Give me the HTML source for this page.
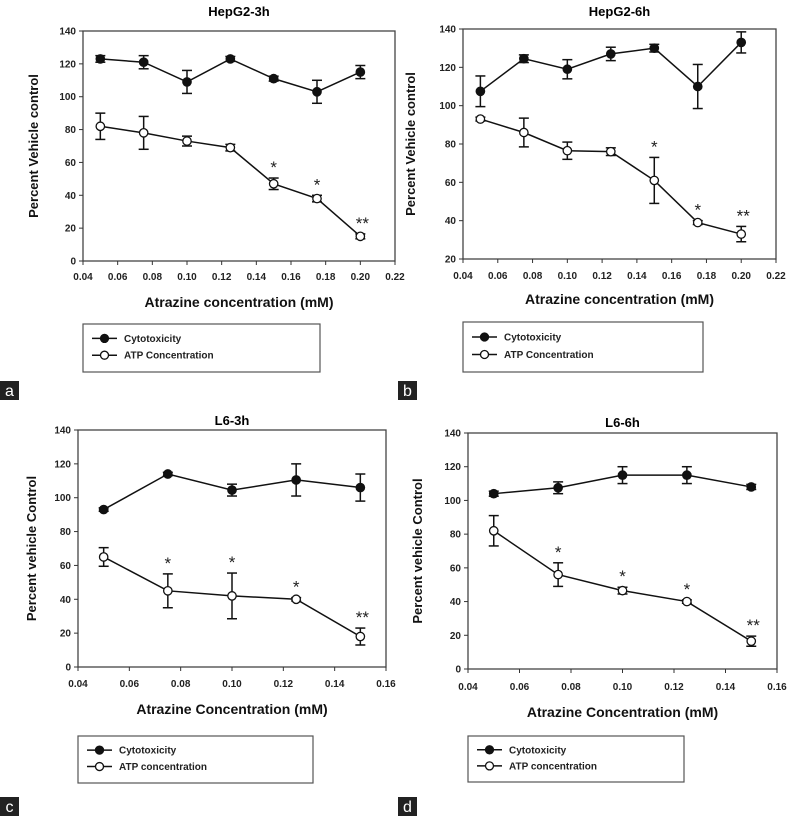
<!DOCTYPE html>
<html><head><meta charset="utf-8"><style>
body{margin:0;background:#fff;}
svg{display:block;font-family:"Liberation Sans",Arial,sans-serif;}
</style></head><body>
<svg id="fig" width="789" height="816" viewBox="0 0 789 816"></svg>
<script>
const xsA=[0.05,0.075,0.10,0.125,0.15,0.175,0.20];
const xsC=[0.05,0.075,0.10,0.125,0.15];
const aCyto=[123,121,109,123,111,103,115], aCytoErr=[2,4,7,1.5,1.5,7,4];
const aAtp=[82,78,73,69,47,38,15], aAtpErr=[8,10,3,2,3.5,2,1.5];
const aStars=["","","","","*","*","**"];
const bCyto=[107.5,124.5,119,127,130,110,133], bCytoErr=[8,2,5,3.5,2,11.5,5.5];
const bAtp=[93,86,76.5,76,61,39,33], bAtpErr=[1,7.5,4.5,2,12,1,4];
const bStars=["","","","","*","*","**"];
const cCyto=[93,114,104.5,110.5,106], cCytoErr=[1,1,3.5,9.5,8];
const cAtp=[65,45,42,40,18], cAtpErr=[5.5,10,13.5,1,5];
const cStars=["","*","*","*","**"];
const dCyto=[104,107.5,115,115,108], dCytoErr=[1.5,3.5,5,5,1.5];
const dAtp=[82,56,46.5,40,16.5], dAtpErr=[9,7,2,1,3];
const dStars=["","*","*","*","**"];
const xTicksA=[0.04,0.06,0.08,0.10,0.12,0.14,0.16,0.18,0.20,0.22];
const xTicksC=[0.04,0.06,0.08,0.10,0.12,0.14,0.16];
const yTicksA=[0,20,40,60,80,100,120,140];
const yTicksB=[20,40,60,80,100,120,140];

const NS="http://www.w3.org/2000/svg";
const svg=document.getElementById('fig');
function mk(tag,attrs,parent,text){const e=document.createElementNS(NS,tag);for(const k in attrs)e.setAttribute(k,attrs[k]);if(text!==undefined)e.textContent=text;(parent||svg).appendChild(e);return e;}

function panel(p){
  const g=mk('g',{});
  
  
  const X=v=>p.L+(v-p.xmin)/(p.xmax-p.xmin)*(p.R-p.L);
  const Y=v=>p.B-(v-p.ymin)/(p.ymax-p.ymin)*(p.B-p.T);
  const t=mk('text',{x:(p.L+p.R)/2,y:p.titleY,'text-anchor':'middle','font-size':13,'font-weight':'bold'},g,p.title);
  
  
  const box=mk('rect',{x:p.L,y:p.T,width:p.R-p.L,height:p.B-p.T,fill:'none',stroke:'#444','stroke-width':1.3},g);
  
  
  p.yt.forEach(v=>{
    mk('line',{x1:p.L-4,x2:p.L,y1:Y(v),y2:Y(v),stroke:'#333'},g);
    const l=mk('text',{x:p.L-7,y:Y(v)+3.5,'text-anchor':'end','font-size':10,'font-weight':'bold',fill:'#222'},g,String(v));
    
    
  });
  p.xt.forEach(v=>{
    mk('line',{x1:X(v),x2:X(v),y1:p.B,y2:p.B+4,stroke:'#333'},g);
    const l=mk('text',{x:X(v),y:p.tickY,'text-anchor':'middle','font-size':10,'font-weight':'bold',fill:'#222'},g,v.toFixed(2));
    
    
  });
  const xt=mk('text',{x:(p.L+p.R)/2,y:p.xTitleY,'text-anchor':'middle','font-size':14,'font-weight':'bold',fill:'#111'},g,p.xTitle);
  
  
  const cy=(p.T+p.B)/2;
  const yt=mk('text',{x:p.yTitleX,y:cy,'text-anchor':'middle','font-size':13,'font-weight':'bold',fill:'#111',transform:`rotate(-90 ${p.yTitleX} ${cy})`},g,p.yTitle);
  
  
  [[p.cyto,p.cytoErr,'#111','cytotoxicity'],[p.atp,p.atpErr,'#fff','atp']].forEach(([vals,err,fill,nm])=>{
    const pts=vals.map((v,i)=>X(p.xs[i])+','+Y(v)).join(' ');
    const pl=mk('polyline',{points:pts,fill:'none',stroke:'#111','stroke-width':1.5},g);
    
    
    vals.forEach((v,i)=>{
      const x=X(p.xs[i]);
      const e=err[i];
      if(e>0){
        mk('line',{x1:x,x2:x,y1:Y(v+e),y2:Y(v-e),stroke:'#111','stroke-width':1.5},g);
        mk('line',{x1:x-5,x2:x+5,y1:Y(v+e),y2:Y(v+e),stroke:'#111','stroke-width':1.5},g);
        mk('line',{x1:x-5,x2:x+5,y1:Y(v-e),y2:Y(v-e),stroke:'#111','stroke-width':1.5},g);
      }
      const c=mk('circle',{cx:x,cy:Y(v),r:4.2,fill:fill,stroke:'#111','stroke-width':1.3},g);
      
      
    });
  });
  p.stars.forEach((s,i)=>{
    if(!s)return;
    const top=p.atp[i]+p.atpErr[i];
    const st=mk('text',{x:X(p.xs[i])+(s.length>1?2:0),y:Y(top)-5,'text-anchor':'middle','font-size':17,fill:'#222'},g,s);
    
    
  });
  const lg=mk('g',{},g);
  
  
  mk('rect',{x:p.lg[0],y:p.lg[1],width:p.lg[2]-p.lg[0],height:p.lg[3]-p.lg[1],fill:'#fff',stroke:'#555','stroke-width':1.2},lg);
  const ly1=p.lg[1]+(p.lg[3]-p.lg[1])*0.3, ly2=p.lg[1]+(p.lg[3]-p.lg[1])*0.65;
  const lx=p.lg[0]+9;
  [[ly1,'#111','Cytotoxicity','legend-entry-cytotoxicity'],[ly2,'#fff',p.atpLabel,'legend-entry-atp']].forEach(([ly,f,txt,nm])=>{
    const eg=mk('g',{},lg);
    
    
    mk('line',{x1:lx,x2:lx+25,y1:ly,y2:ly,stroke:'#111','stroke-width':1.5},eg);
    mk('circle',{cx:lx+12.5,cy:ly,r:4,fill:f,stroke:'#111','stroke-width':1.3},eg);
    mk('text',{x:lx+32,y:ly+3.5,'font-size':10,'font-weight':'bold',fill:'#222'},eg,txt);
  });
  const lb=mk('g',{},g);
  
  
  mk('rect',{x:p.lab[0],y:p.lab[1],width:19,height:19,fill:'#222'},lb);
  mk('text',{x:p.lab[0]+9.5,y:p.lab[1]+15,'text-anchor':'middle','font-size':16,fill:'#fff'},lb,p.id);
}

panel({id:'a',title:'HepG2-3h',L:83,R:395,T:31,B:261,xmin:0.04,xmax:0.22,ymin:0,ymax:140,xs:xsA,xt:xTicksA,yt:yTicksA,
 cyto:aCyto,cytoErr:aCytoErr,atp:aAtp,atpErr:aAtpErr,stars:aStars,titleY:16,tickY:280,xTitleY:307,xTitle:'Atrazine concentration (mM)',
 yTitleX:38,yTitle:'Percent Vehicle control',lg:[83,324,320,372],atpLabel:'ATP Concentration',lab:[0,381]});
panel({id:'b',title:'HepG2-6h',L:463,R:776,T:29,B:259,xmin:0.04,xmax:0.22,ymin:20,ymax:140,xs:xsA,xt:xTicksA,yt:yTicksB,
 cyto:bCyto,cytoErr:bCytoErr,atp:bAtp,atpErr:bAtpErr,stars:bStars,titleY:16,tickY:279,xTitleY:304,xTitle:'Atrazine concentration (mM)',
 yTitleX:415,yTitle:'Percent Vehicle control',lg:[463,322,703,372],atpLabel:'ATP Concentration',lab:[398,381]});
panel({id:'c',title:'L6-3h',L:78,R:386,T:430,B:667,xmin:0.04,xmax:0.16,ymin:0,ymax:140,xs:xsC,xt:xTicksC,yt:yTicksA,
 cyto:cCyto,cytoErr:cCytoErr,atp:cAtp,atpErr:cAtpErr,stars:cStars,titleY:425,tickY:687,xTitleY:714,xTitle:'Atrazine Concentration (mM)',
 yTitleX:36,yTitle:'Percent vehicle Control',lg:[78,736,313,783],atpLabel:'ATP concentration',lab:[0,797]});
panel({id:'d',title:'L6-6h',L:468,R:777,T:433,B:669,xmin:0.04,xmax:0.16,ymin:0,ymax:140,xs:xsC,xt:xTicksC,yt:yTicksA,
 cyto:dCyto,cytoErr:dCytoErr,atp:dAtp,atpErr:dAtpErr,stars:dStars,titleY:427,tickY:690,xTitleY:717,xTitle:'Atrazine Concentration (mM)',
 yTitleX:422,yTitle:'Percent vehicle Control',lg:[468,736,684,782],atpLabel:'ATP concentration',lab:[398,797]});
</script>
</body></html>
